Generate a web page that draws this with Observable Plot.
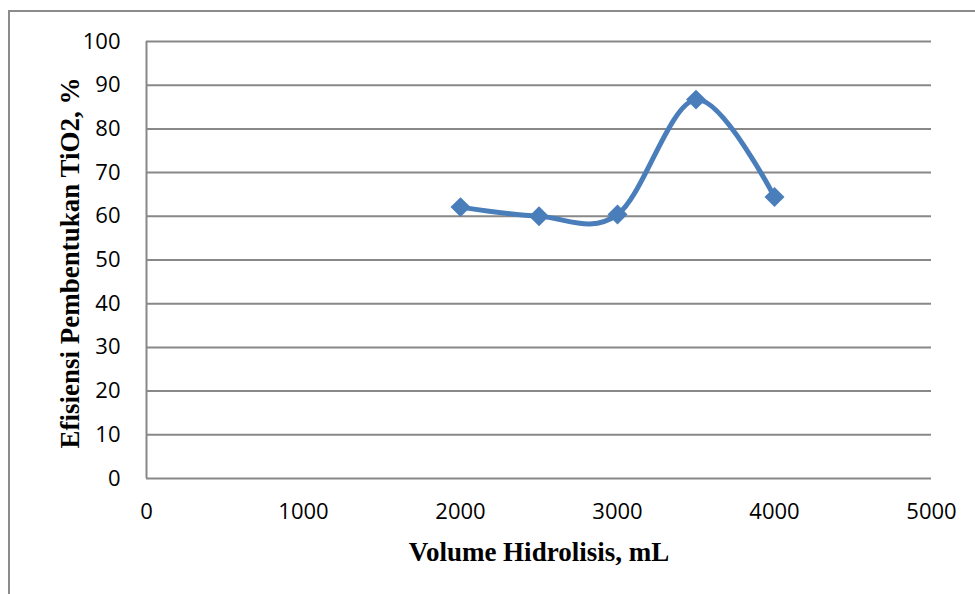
<!DOCTYPE html>
<html>
<head>
<meta charset="utf-8">
<script src="https://cdn.jsdelivr.net/npm/d3@7"></script>
<script src="https://cdn.jsdelivr.net/npm/@observablehq/plot@0.6"></script>
<style>
  html, body { margin: 0; padding: 0; background: #fff; }
  #wrap { position: relative; width: 975px; height: 594px; overflow: hidden; }
  #frame { position: absolute; left: 8px; top: 10px; width: 1000px; height: 700px;
           border-left: 2px solid #8c8c8c; border-top: 2px solid #8c8c8c; pointer-events: none; }
  svg { display: block; }
</style>
</head>
<body>
<div id="wrap"><div id="frame"></div><div id="chart"></div></div>
<script>
const volumes = [2000, 2500, 3000, 3500, 4000];
const efficiency = [62.1, 60.0, 60.4, 86.7, 64.4];
const xTicks = [0, 1000, 2000, 3000, 4000, 5000];
const yTicks = [0, 10, 20, 30, 40, 50, 60, 70, 80, 90, 100];
const xTitle = "Volume Hidrolisis, mL";
const yTitle = "Efisiensi Pembentukan TiO2, %";

const data = volumes.map((v, i) => ({x: v, y: efficiency[i]}));

const chart = Plot.plot({
  width: 975,
  height: 594,
  marginLeft: 146,
  marginRight: 44,
  marginTop: 41,
  marginBottom: 116,
  style: {fontFamily: "'Open Sans', sans-serif", fontSize: "22px", color: "#000", background: "transparent"},
  x: {domain: [0, 5000]},
  y: {domain: [0, 100]},
  marks: [
    Plot.ruleY(yTicks, {stroke: "#888", strokeWidth: 2}),
    Plot.ruleX([0], {y1: 0, y2: 100, stroke: "#888", strokeWidth: 2}),
    Plot.axisX(xTicks, {tickSize: 0, tickPadding: 25, label: null, fontSize: 22, tickFormat: d => String(d)}),
    Plot.axisY(yTicks, {tickSize: 0, tickPadding: 26, label: null, fontSize: 22, tickFormat: d => String(d)}),
    Plot.line(data, {x: "x", y: "y", curve: "cardinal", stroke: "#4a7ebb", strokeWidth: 5}),
    Plot.dot(data, {x: "x", y: "y", symbol: "diamond2", r: 9, fill: "#4a7ebb", stroke: "none"}),
    Plot.text([xTitle], {frameAnchor: "bottom", lineAnchor: "middle", textAnchor: "middle", dy: 74, fontFamily: "'Liberation Serif', serif", fontWeight: "bold", fontSize: 27, fill: "#000"}),
    Plot.text([yTitle], {frameAnchor: "left", lineAnchor: "middle", textAnchor: "middle", dx: -76, dy: 3, rotate: -90, fontFamily: "'Liberation Serif', serif", fontWeight: "bold", fontSize: 27, fill: "#000"})
  ]
});
document.getElementById("chart").appendChild(chart);
</script>
</body>
</html>
